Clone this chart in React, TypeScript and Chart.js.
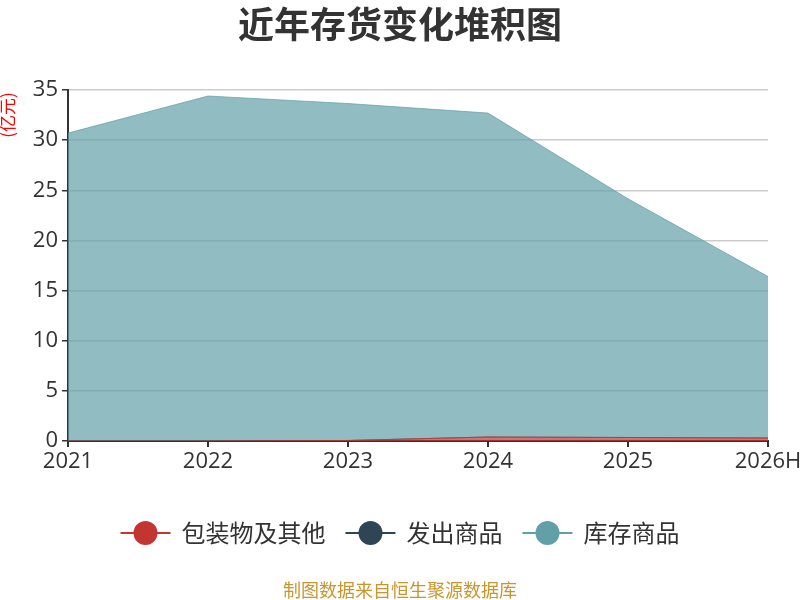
import React, { useEffect, useRef } from 'react';
import { Chart, registerables } from 'chart.js';

Chart.register(...registerables);

const categories = ['2021', '2022', '2023', '2024', '2025', '2026H'];
const packagingValues = [0, 0, 0.05, 0.4, 0.35, 0.3];
const shippedValues = [0, 0, 0, 0, 0, 0];
const inventoryValues = [30.7, 34.4, 33.6, 32.3, 23.8, 16.1];
const seriesNames = ['包装物及其他', '发出商品', '库存商品'];
const yTickMax = 35;
const yTickStep = 5;

const FONT = '"Noto Sans CJK SC", "Noto Sans", sans-serif';
const TICK_FONT = '"Open Sans", "Noto Sans", sans-serif';
const solidColors = ['#c23531', '#2f4554', '#61a0a8'];
const fillColors = ['rgba(194,53,49,0.7)', 'rgba(47,69,84,0.7)', 'rgba(97,160,168,0.7)'];

const textPlugin = {
  id: 'textPlugin',
  afterDraw(chart: any) {
    const ctx = chart.ctx as CanvasRenderingContext2D;
    ctx.save();
    // title
    ctx.fillStyle = '#333';
    ctx.font = `bold 36px ${FONT}`;
    ctx.textAlign = 'center';
    ctx.textBaseline = 'middle';
    ctx.fillText('近年存货变化堆积图', 400, 24);

    // y axis name
    ctx.save();
    ctx.translate(8, 115);
    ctx.rotate(-Math.PI / 2);
    ctx.fillStyle = '#ff0000';
    ctx.font = `17px ${FONT}`;
    ctx.textAlign = 'center';
    ctx.textBaseline = 'middle';
    ctx.fillText('(亿元)', 0, 0);
    ctx.restore();

    // legend
    const iconW = 50;
    const gapText = 11;
    const gapItem = 20;
    ctx.font = `24px ${FONT}`;
    const widths = chart.data.datasets.map((d: any) => ctx.measureText(d.label).width);
    let total = 0;
    widths.forEach((w: number, i: number) => {
      total += iconW + gapText + w + (i < widths.length - 1 ? gapItem : 0);
    });
    let x = 400 - total / 2;
    const ly = 533;
    chart.data.datasets.forEach((d: any, i: number) => {
      const c = solidColors[i];
      ctx.strokeStyle = c;
      ctx.lineWidth = 2;
      ctx.beginPath();
      ctx.moveTo(x, ly);
      ctx.lineTo(x + iconW, ly);
      ctx.stroke();
      ctx.fillStyle = c;
      ctx.beginPath();
      ctx.arc(x + iconW / 2, ly, 12, 0, Math.PI * 2);
      ctx.fill();
      ctx.fillStyle = '#333';
      ctx.textAlign = 'left';
      ctx.textBaseline = 'middle';
      ctx.fillText(d.label, x + iconW + gapText, ly);
      x += iconW + gapText + widths[i] + gapItem;
    });

    // footer
    ctx.fillStyle = '#c8962d';
    ctx.font = `18px ${FONT}`;
    ctx.textAlign = 'center';
    ctx.textBaseline = 'middle';
    ctx.fillText('制图数据来自恒生聚源数据库', 400, 590);
    ctx.restore();
  },
};

export default function App() {
  const ref = useRef<HTMLCanvasElement>(null);
  useEffect(() => {
    const values = [packagingValues, shippedValues, inventoryValues];
    const chart = new Chart(ref.current as HTMLCanvasElement, {
      type: 'line',
      data: {
        labels: categories,
        datasets: values.map((v, i) => ({
          label: seriesNames[i],
          data: v,
          fill: i === 0 ? 'origin' : '-1',
          backgroundColor: fillColors[i],
          borderColor: fillColors[i],
          borderWidth: 1,
          pointRadius: 0,
          tension: 0,
        })),
      },
      options: {
        animation: false,
        responsive: false,
        maintainAspectRatio: false,
        layout: { padding: { left: 0, right: 32, top: 90, bottom: 0 } },
        plugins: {
          legend: { display: false },
          title: { display: false },
          tooltip: { enabled: false },
        },
        scales: {
          x: {
            type: 'category',
            offset: false,
            grid: { display: true, drawOnChartArea: false, drawTicks: true, tickLength: 6, color: '#333', lineWidth: 2 },
            border: { display: true, color: '#333', width: 2 },
            ticks: { font: { size: 22, family: TICK_FONT }, color: '#333', padding: 2, maxRotation: 0, autoSkip: false },
            afterFit: (s: any) => { s.height = 600 - 441; s.paddingRight = 0; s.paddingLeft = 0; },
          },
          y: {
            stacked: true,
            min: 0,
            max: yTickMax,
            ticks: { stepSize: yTickStep, font: { size: 22, family: TICK_FONT }, color: '#333', padding: 4 },
            grid: { color: '#ccc', tickColor: '#333', tickLength: 6, lineWidth: 1.5 },
            border: { display: true, color: '#333', width: 2 },
            afterFit: (s: any) => { s.width = 68; s.paddingTop = 0; },
          },
        },
      } as any,
      plugins: [textPlugin],
    });
    return () => chart.destroy();
  }, []);
  return (
    <div style={{ position: 'absolute', left: 0, top: 0, width: 800, height: 600 }}>
      <canvas ref={ref} width={800} height={600} style={{ width: 800, height: 600 }} />
    </div>
  );
}
